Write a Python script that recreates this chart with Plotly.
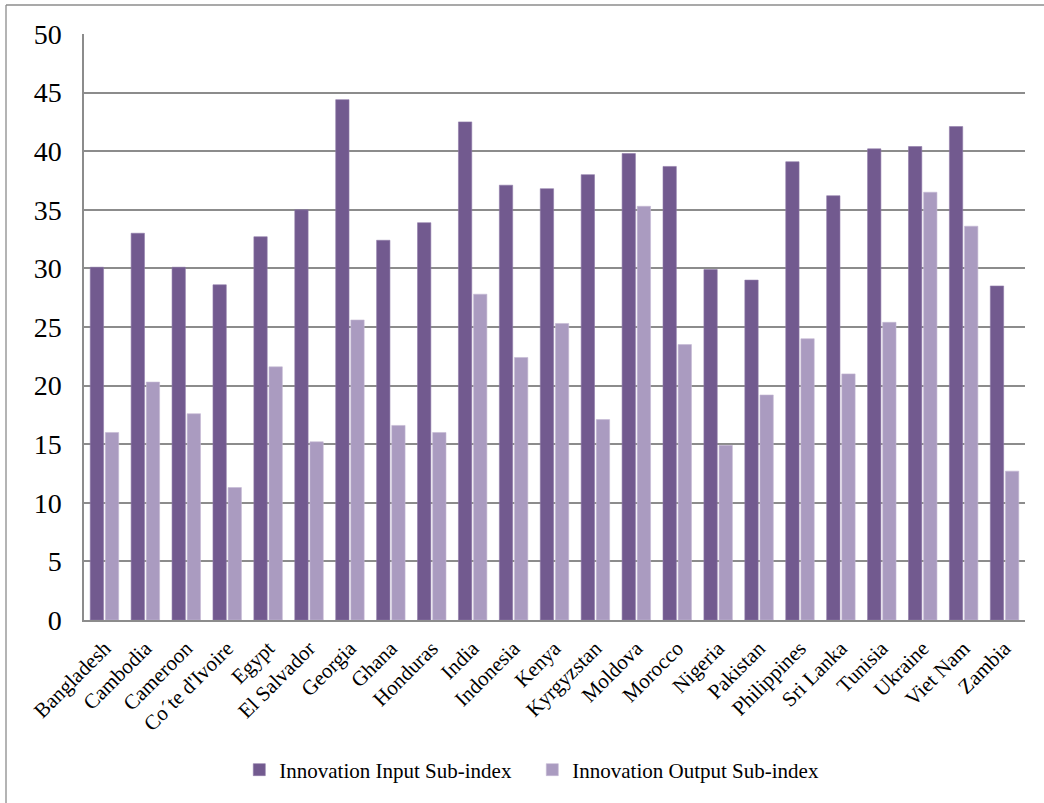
import plotly.graph_objects as go

countries = ["Bangladesh", "Cambodia", "Cameroon", "Co\u00b4te d'Ivoire", "Egypt", "El Salvador",
             "Georgia", "Ghana", "Honduras", "India", "Indonesia", "Kenya", "Kyrgyzstan",
             "Moldova", "Morocco", "Nigeria", "Pakistan", "Philippines", "Sri Lanka",
             "Tunisia", "Ukraine", "Viet Nam", "Zambia"]
input_index = [30.1, 33.0, 30.1, 28.6, 32.7, 35.0, 44.4, 32.4, 33.9, 42.5, 37.1, 36.8,
               38.0, 39.8, 38.7, 29.9, 29.0, 39.1, 36.2, 40.2, 40.4, 42.1, 28.5]
output_index = [16.0, 20.3, 17.6, 11.3, 21.6, 15.2, 25.6, 16.6, 16.0, 27.8, 22.4, 25.3,
                 17.1, 35.3, 23.5, 14.9, 19.2, 24.0, 21.0, 25.4, 36.5, 33.6, 12.7]
y_ticks = [0, 5, 10, 15, 20, 25, 30, 35, 40, 45, 50]

FONT = "Liberation Serif, Times New Roman, serif"
W, H = 1044, 803
L, R, T, B = 84, 19, 34, 183
pw, ph = W - L - R, H - T - B


def px_x(x):
    return (x - L) / pw


def px_y(y):
    return (H - B - y) / ph


fig = go.Figure()
fig.add_trace(go.Bar(x=countries, y=input_index, name="Innovation Input Sub-index",
                     marker=dict(color="#725A8F", line=dict(color="#8E7AA8", width=0.6))))
fig.add_trace(go.Bar(x=countries, y=output_index, name="Innovation Output Sub-index",
                     marker=dict(color="#AA9BC0", line=dict(color="#C4B8D4", width=0.6))))

# outer chart frame (top and left edges)
fig.add_shape(type="line", xref="paper", yref="paper",
              x0=px_x(6), x1=px_x(W + 5), y0=px_y(5), y1=px_y(5),
              line=dict(color="#8C8C8C", width=1.3))
fig.add_shape(type="line", xref="paper", yref="paper",
              x0=px_x(6), x1=px_x(6), y0=px_y(5), y1=px_y(H + 5),
              line=dict(color="#8C8C8C", width=1.3))

fig.update_layout(
    width=W, height=H,
    margin=dict(l=L, r=R, t=T, b=B),
    paper_bgcolor="white", plot_bgcolor="white",
    barmode="group", bargap=0.26, bargroupgap=0.12,
    font=dict(family=FONT, color="#000000"),
    showlegend=True,
    legend=dict(orientation="h", x=px_x(244) - 0.005, xanchor="left", y=px_y(770), yanchor="middle",
                font=dict(family=FONT, size=21, color="#000000"),
                entrywidth=248, entrywidthmode="pixels", itemwidth=30),
)
fig.update_xaxes(
    type="category", tickangle=-45, tickfont=dict(family=FONT, size=21, color="#000000"),
    showline=True, linecolor="#8C8C8C", linewidth=1.5, ticks="", showgrid=False,
    ticklabelstandoff=6,
)
fig.update_yaxes(
    range=[0, 50], tickvals=y_ticks, tickfont=dict(family=FONT, size=28, color="#000000"),
    showgrid=True, gridcolor="#8C8C8C", gridwidth=1.5, zeroline=False,
    showline=True, linecolor="#8C8C8C", linewidth=1.5, ticks="",
    ticklabelstandoff=15,
)

fig.write_html("out.html")
